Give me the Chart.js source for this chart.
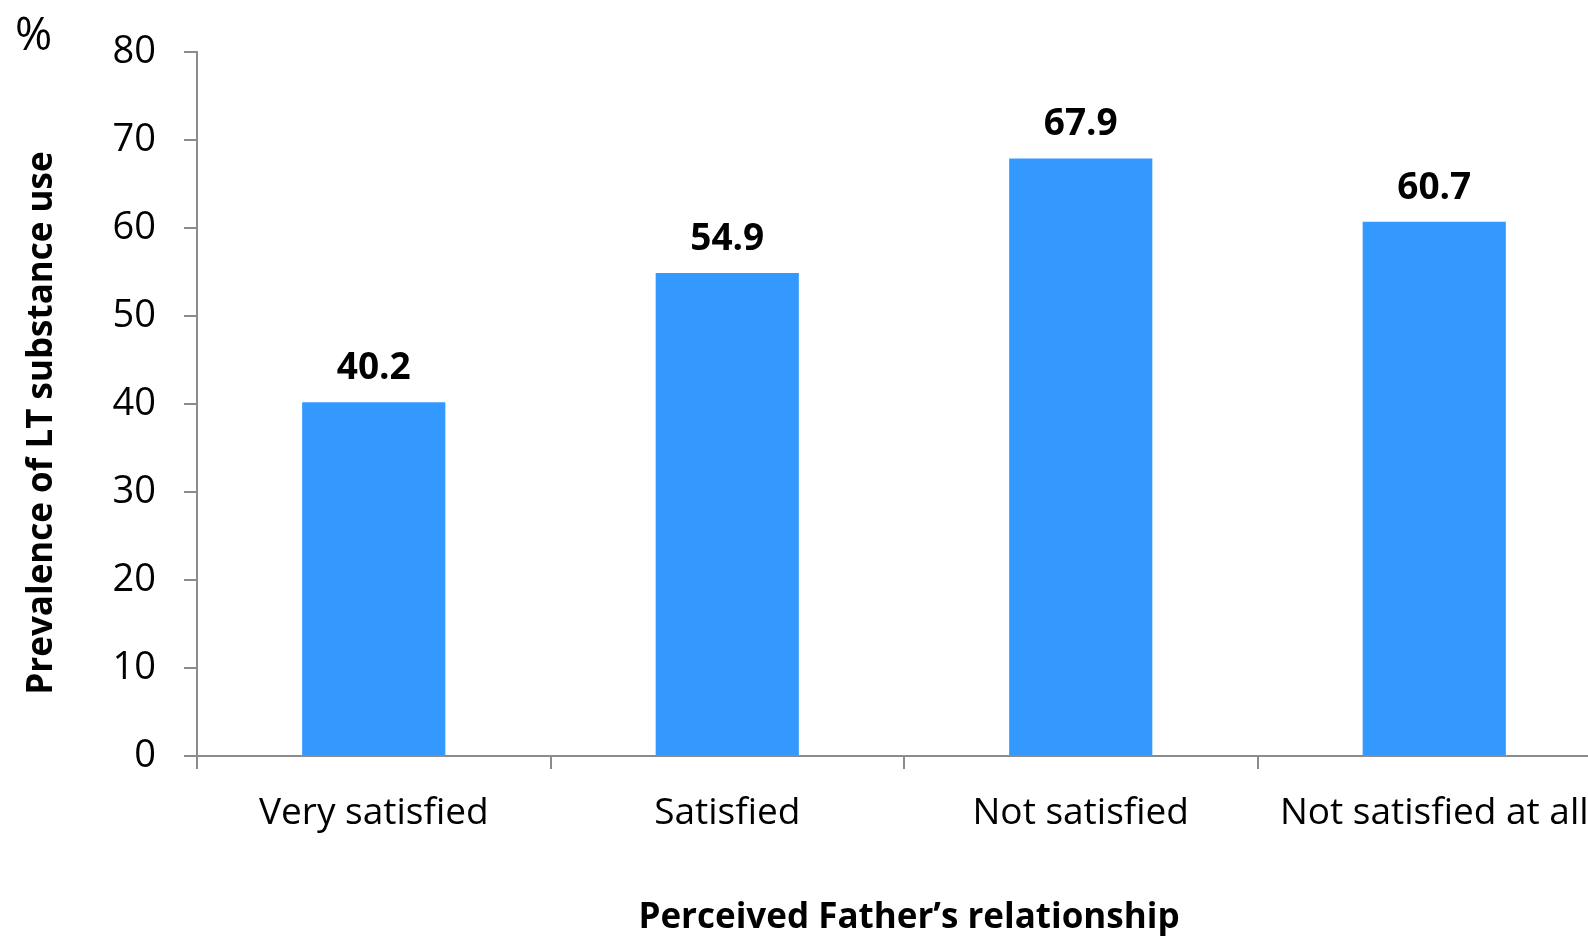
<!DOCTYPE html>
<html>
<head>
<meta charset="utf-8">
<script src="https://cdn.jsdelivr.net/npm/chart.js@4/dist/chart.umd.min.js"></script>
<style>
  html, body { margin: 0; padding: 0; background: #ffffff; overflow: hidden; }
  #wrap { width: 1588px; height: 936px; overflow: hidden; position: relative; }
  canvas { display: block; position: absolute; left: 0; top: 0; }
</style>
</head>
<body>
<div id="wrap"><canvas id="c" width="1611" height="936"></canvas></div>
<script>
const categories = ["Very satisfied", "Satisfied", "Not satisfied", "Not satisfied at all"];
const prevalence = [40.2, 54.9, 67.9, 60.7];
const valueLabels = ["40.2", "54.9", "67.9", "60.7"];
const yTicks = [0, 10, 20, 30, 40, 50, 60, 70, 80];
const xTitle = "Perceived Father\u2019s relationship";
const yTitle = "Prevalence of LT substance use";
const unitLabel = "%";

const AXIS = "#8c8c8c";
const FONT = "'Open Sans', sans-serif";

const textPlugin = {
  id: 'textPlugin',
  afterDatasetsDraw(chart) {
    const ctx = chart.ctx;
    const meta = chart.getDatasetMeta(0);
    ctx.save();
    ctx.fillStyle = '#000';
    ctx.font = "bold 37px " + FONT;
    ctx.textAlign = 'center';
    ctx.textBaseline = 'alphabetic';
    meta.data.forEach((bar, i) => {
      ctx.fillText(valueLabels[i], bar.x, bar.y - 23);
    });
    // x axis title
    ctx.font = "bold 35px " + FONT;
    ctx.fillText(xTitle, 909, 928);
    // y axis title
    ctx.save();
    ctx.translate(52, 423);
    ctx.rotate(-Math.PI / 2);
    ctx.font = "bold 35px " + FONT;
    ctx.fillText(yTitle, 0, 0);
    ctx.restore();
    // unit
    ctx.font = "45px " + FONT;
    ctx.textAlign = 'left';
    ctx.fillText(unitLabel, 15, 50);
    ctx.restore();
  }
};

new Chart(document.getElementById('c'), {
  type: 'bar',
  data: {
    labels: categories,
    datasets: [{
      data: prevalence,
      backgroundColor: '#3399ff',
      borderWidth: 0,
      categoryPercentage: 1.0,
      barPercentage: 0.405
    }]
  },
  options: {
    responsive: false,
    animation: false,
    devicePixelRatio: 1,
    layout: { padding: { left: 0, right: 0, top: 52, bottom: 0 } },
    plugins: { legend: { display: false }, tooltip: { enabled: false } },
    scales: {
      x: {
        type: 'category',
        offset: true,
        grid: { display: true, drawOnChartArea: false, offset: true, color: AXIS, lineWidth: 2, tickLength: 13, tickWidth: 2 },
        border: { display: true, color: AXIS, width: 2 },
        ticks: { color: '#000', font: { family: FONT, size: 37 }, padding: 22, maxRotation: 0, autoSkip: false },
        afterFit(s) { s.height = 180; }
      },
      y: {
        min: 0, max: 80,
        afterBuildTicks(s) { s.ticks = yTicks.map(v => ({ value: v })); },
        grid: { display: true, drawOnChartArea: false, color: AXIS, lineWidth: 2, tickLength: 13, tickWidth: 2 },
        border: { display: true, color: AXIS, width: 2 },
        ticks: { color: '#000', font: { family: FONT, size: 38 }, padding: 28 },
        afterFit(s) { s.width = 197; }
      }
    }
  },
  plugins: [textPlugin]
});
</script>
</body>
</html>
